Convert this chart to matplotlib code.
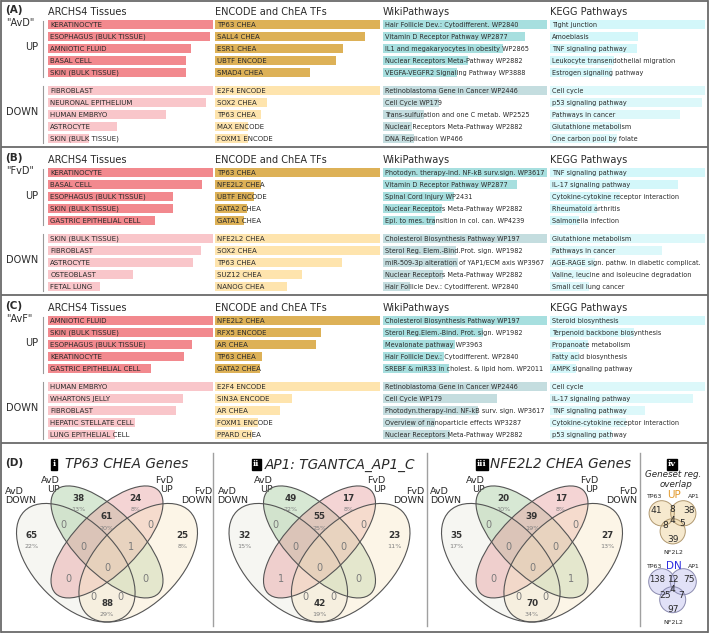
import matplotlib
matplotlib.use('Agg')
import matplotlib.pyplot as plt
from matplotlib.patches import Ellipse, Circle

# ---------------- DATA ----------------
PANEL_IDS = ["(A)", "(B)", "(C)"]
PANEL_NAMES = ['"AvD"', '"FvD"', '"AvF"']
COLUMN_TITLES = ["ARCHS4 Tissues", "ENCODE and ChEA TFs", "WikiPathways", "KEGG Pathways"]

# first five = UP, last five = DOWN; values = relative enrichment (bar length)
AVD_ARCHS4_LABELS = ["KERATINOCYTE", "ESOPHAGUS (BULK TISSUE)", "AMNIOTIC FLUID", "BASAL CELL", "SKIN (BULK TISSUE)",
                     "FIBROBLAST", "NEURONAL EPITHELIUM", "HUMAN EMBRYO", "ASTROCYTE", "SKIN (BULK TISSUE)"]
AVD_ARCHS4_VALUES = [1.0, 0.98, 0.866, 0.838, 0.838, 1.0, 0.96, 0.717, 0.42, 0.25]
AVD_TF_LABELS = ["TP63 CHEA", "SALL4 CHEA", "ESR1 CHEA", "UBTF ENCODE", "SMAD4 CHEA",
                 "E2F4 ENCODE", "SOX2 CHEA", "TP63 CHEA", "MAX ENCODE", "FOXM1 ENCODE"]
AVD_TF_VALUES = [1.0, 0.909, 0.774, 0.733, 0.576, 1.0, 0.313, 0.277, 0.2, 0.2]
AVD_WIKI_LABELS = ["Hair Follicle Dev.: Cytodifferent. WP2840", "Vitamin D Receptor Pathway WP2877",
                   "IL1 and megakaryocytes in obesity WP2865", "Nuclear Receptors Meta-Pathway WP2882",
                   "VEGFA-VEGFR2 Signaling Pathway WP3888", "Retinoblastoma Gene in Cancer WP2446",
                   "Cell Cycle WP179", "Trans-sulfuration and one C metab. WP2525",
                   "Nuclear Receptors Meta-Pathway WP2882", "DNA Replication WP466"]
AVD_WIKI_VALUES = [1.0, 0.868, 0.73, 0.52, 0.45, 1.0, 0.344, 0.247, 0.176, 0.19]
AVD_KEGG_LABELS = ["Tight junction", "Amoebiasis", "TNF signaling pathway", "Leukocyte transendothelial migration",
                   "Estrogen signaling pathway", "Cell cycle", "p53 signaling pathway", "Pathways in cancer",
                   "Glutathione metabolism", "One carbon pool by folate"]
AVD_KEGG_VALUES = [1.0, 0.57, 0.56, 0.41, 0.40, 1.0, 0.98, 0.84, 0.46, 0.43]

FVD_ARCHS4_LABELS = ["KERATINOCYTE", "BASAL CELL", "ESOPHAGUS (BULK TISSUE)", "SKIN (BULK TISSUE)",
                     "GASTRIC EPITHELIAL CELL", "SKIN (BULK TISSUE)", "FIBROBLAST", "ASTROCYTE", "OSTEOBLAST", "FETAL LUNG"]
FVD_ARCHS4_VALUES = [1.0, 0.933, 0.757, 0.757, 0.65, 1.0, 0.927, 0.879, 0.518, 0.316]
FVD_TF_LABELS = ["TP63 CHEA", "NFE2L2 CHEA", "UBTF ENCODE", "GATA2 CHEA", "GATA1 CHEA",
                 "NFE2L2 CHEA", "SOX2 CHEA", "TP63 CHEA", "SUZ12 CHEA", "NANOG CHEA"]
FVD_TF_VALUES = [1.0, 0.277, 0.236, 0.196, 0.176, 1.0, 1.0, 0.768, 0.525, 0.434]
FVD_WIKI_LABELS = ["Photodyn. therapy-ind. NF-kB surv.sign. WP3617", "Vitamin D Receptor Pathway WP2877",
                   "Spinal Cord Injury WP2431", "Nuclear Receptors Meta-Pathway WP2882",
                   "Epi. to mes. transition in col. can. WP4239", "Cholesterol Biosynthesis Pathway WP197",
                   "Sterol Reg. Elem.-Bind.Prot. sign. WP1982", "miR-509-3p alteration of YAP1/ECM axis WP3967",
                   "Nuclear Receptors Meta-Pathway WP2882", "Hair Follicle Dev.: Cytodifferent. WP2840"]
FVD_WIKI_VALUES = [1.0, 0.818, 0.435, 0.362, 0.318, 1.0, 0.443, 0.46, 0.368, 0.162]
FVD_KEGG_LABELS = ["TNF signaling pathway", "IL-17 signaling pathway", "Cytokine-cytokine receptor interaction",
                   "Rheumatoid arthritis", "Salmonella infection", "Glutathione metabolism", "Pathways in cancer",
                   "AGE-RAGE sign. pathw. in diabetic complicat.", "Valine, leucine and isoleucine degradation",
                   "Small cell lung cancer"]
FVD_KEGG_VALUES = [1.0, 0.824, 0.45, 0.30, 0.187, 1.0, 0.725, 0.29, 0.26, 0.25]

AVF_ARCHS4_LABELS = ["AMNIOTIC FLUID", "SKIN (BULK TISSUE)", "ESOPHAGUS (BULK TISSUE)", "KERATINOCYTE",
                     "GASTRIC EPITHELIAL CELL", "HUMAN EMBRYO", "WHARTONS JELLY", "FIBROBLAST",
                     "HEPATIC STELLATE CELL", "LUNG EPITHELIAL CELL"]
AVF_ARCHS4_VALUES = [1.0, 1.0, 0.872, 0.826, 0.623, 1.0, 0.818, 0.775, 0.528, 0.407]
AVF_TF_LABELS = ["NFE2L2 CHEA", "RFX5 ENCODE", "AR CHEA", "TP63 CHEA", "GATA2 CHEA",
                 "E2F4 ENCODE", "SIN3A ENCODE", "AR CHEA", "FOXM1 ENCODE", "PPARD CHEA"]
AVF_TF_VALUES = [1.0, 0.64, 0.61, 0.283, 0.273, 1.0, 0.465, 0.394, 0.263, 0.226]
AVF_WIKI_LABELS = ["Cholesterol Biosynthesis Pathway WP197", "Sterol Reg.Elem.-Bind. Prot. sign. WP1982",
                   "Mevalonate pathway WP3963", "Hair Follicle Dev.: Cytodifferent. WP2840",
                   "SREBF & miR33 in cholest. & lipid hom. WP2011", "Retinoblastoma Gene in Cancer WP2446",
                   "Cell Cycle WP179", "Photodyn.therapy-ind. NF-kB surv. sign. WP3617",
                   "Overview of nanoparticle effects WP3287", "Nuclear Receptors Meta-Pathway WP2882"]
AVF_WIKI_VALUES = [1.0, 0.61, 0.44, 0.374, 0.40, 1.0, 0.696, 0.577, 0.32, 0.41]
AVF_KEGG_LABELS = ["Steroid biosynthesis", "Terpenoid backbone biosynthesis", "Propanoate metabolism",
                   "Fatty acid biosynthesis", "AMPK signaling pathway", "Cell cycle", "IL-17 signaling pathway",
                   "TNF signaling pathway", "Cytokine-cytokine receptor interaction", "p53 signaling pathway"]
AVF_KEGG_VALUES = [1.0, 0.54, 0.247, 0.19, 0.17, 1.0, 0.925, 0.61, 0.49, 0.40]

# Venn diagrams: region order
VENN_REGIONS = ["A", "B", "C", "D", "BC", "AB", "CD", "ABC", "BCD", "ABCD", "AC", "BD", "ACD", "ABD", "AD"]
VENN_SET_NAMES = ["AvD\nDOWN", "AvD\nUP", "FvD\nUP", "FvD\nDOWN"]
VENN_NUMERALS = ["i", "ii", "iii"]
VENN_TITLES = ["TP63 CHEA Genes", "AP1: TGANTCA_AP1_C", "NFE2L2 CHEA Genes"]
TP63_COUNTS = [65, 38, 24, 25, 61, 0, 0, 0, 1, 0, 0, 0, 0, 0, 88]
TP63_PCT = [22, 13, 8, 8, 20, None, None, None, None, None, None, None, None, None, 29]
AP1_COUNTS = [32, 49, 17, 23, 55, 0, 0, 0, 0, 0, 1, 0, 0, 0, 42]
AP1_PCT = [15, 22, 8, 11, 25, None, None, None, None, None, None, None, None, None, 19]
NFE2L2_COUNTS = [35, 20, 17, 27, 39, 0, 0, 0, 0, 0, 0, 1, 0, 0, 70]
NFE2L2_PCT = [17, 10, 8, 13, 19, None, None, None, None, None, None, None, None, None, 34]

# Geneset regulation overlap (TP63, TP63&AP1, AP1, TP63&NF2L2, all, AP1&NF2L2, NF2L2)
OVERLAP_REGIONS = ["T", "TA", "A", "TN", "TAN", "AN", "N"]
OVERLAP_UP = [41, 8, 38, 8, 4, 5, 39]
OVERLAP_DN = [138, 12, 75, 25, 4, 7, 97]

# ---------------- FIGURE ----------------
W, H = 709, 633
fig = plt.figure(figsize=(W / 100, H / 100), dpi=100)
base = fig.add_axes([0, 0, 1, 1])
base.set_xlim(0, W)
base.set_ylim(H, 0)
base.axis('off')

TXT = '#2a2a2a'
COL_X = [(48, 213), (215, 380), (383, 547), (550, 705)]
UP_COLORS = ['#F2898E', '#DDB157', '#A7DFDF', '#D3F7FA']
DN_COLORS = ['#F9C6CA', '#FEE4AD', '#C4DDDF', '#DCF8FA']
LABEL_SIZES = [5.0, 5.0, 4.7, 4.7]
PANEL_OFFSETS = [0, 148.3, 296]

panel_data = [
    [(AVD_ARCHS4_LABELS, AVD_ARCHS4_VALUES), (AVD_TF_LABELS, AVD_TF_VALUES),
     (AVD_WIKI_LABELS, AVD_WIKI_VALUES), (AVD_KEGG_LABELS, AVD_KEGG_VALUES)],
    [(FVD_ARCHS4_LABELS, FVD_ARCHS4_VALUES), (FVD_TF_LABELS, FVD_TF_VALUES),
     (FVD_WIKI_LABELS, FVD_WIKI_VALUES), (FVD_KEGG_LABELS, FVD_KEGG_VALUES)],
    [(AVF_ARCHS4_LABELS, AVF_ARCHS4_VALUES), (AVF_TF_LABELS, AVF_TF_VALUES),
     (AVF_WIKI_LABELS, AVF_WIKI_VALUES), (AVF_KEGG_LABELS, AVF_KEGG_VALUES)],
]
row_pos = [0, 1, 2, 3, 4, 5.5, 6.5, 7.5, 8.5, 9.5]


def px_axes(x0, y0, x1, y1):
    return fig.add_axes([x0 / W, 1 - y1 / H, (x1 - x0) / W, (y1 - y0) / H])


for p, off in enumerate(PANEL_OFFSETS):
    base.text(5, off + 10, PANEL_IDS[p], fontsize=7.5, fontweight='bold', color=TXT, va='center', ha='left')
    base.text(6, off + 22.5, PANEL_NAMES[p], fontsize=7, color=TXT, va='center', ha='left')
    base.text(38.5, off + 47.5, "UP", fontsize=7, color=TXT, va='center', ha='right')
    base.text(38.5, off + 112, "DOWN", fontsize=7, color=TXT, va='center', ha='right')
    base.plot([43.3, 43.3], [off + 20.5, off + 77], color='#9a9a9a', lw=0.8)
    base.plot([43.3, 43.3], [off + 86, off + 143], color='#9a9a9a', lw=0.8)
    for c, (x0, x1) in enumerate(COL_X):
        base.text(x0, off + 12, COLUMN_TITLES[c], fontsize=7, color=TXT, va='center', ha='left')
        labels, values = panel_data[p][c]
        ax = px_axes(x0, off + 18.6, x1, off + 144.6)
        ax.set_xlim(0, 1)
        ax.set_ylim(10.0, -0.5)
        ax.axis('off')
        colors = [UP_COLORS[c]] * 5 + [DN_COLORS[c]] * 5
        ax.barh(row_pos, values, height=0.76, left=0, color=colors, edgecolor='none')
        for y, lab in zip(row_pos, labels):
            ax.text(0.013, y, lab, fontsize=LABEL_SIZES[c], color=TXT, va='center', ha='left', clip_on=False)

# panel frames
frame_c = '#6a6a6a'
for y in [1.2, 147, 295, 442.7, 631.8]:
    base.plot([1.2, 707.5], [y, y], color=frame_c, lw=1.3, solid_capstyle='butt')
for x in [1.2, 707.5]:
    base.plot([x, x], [1.2, 631.8], color=frame_c, lw=1.3)

# ---------------- PANEL D ----------------
base.text(5, 463, "(D)", fontsize=7.5, fontweight='bold', color=TXT, va='center', ha='left')
for x in [213, 427, 639.5]:
    base.plot([x, x], [453, 626], color='#a0a0a0', lw=1)

ELLIPSES = [  # (x, y, a, b, angle, face, alpha)
    (0.35, 0.47, 0.35, 0.20, 135, '#E6E6DC', 0.35),
    (0.50, 0.57, 0.35, 0.15, 135, '#A8CCA0', 0.45),
    (0.50, 0.57, 0.35, 0.15, 45, '#E8A0A0', 0.45),
    (0.65, 0.47, 0.35, 0.20, 45, '#F8E6C4', 0.40),
]
REGION_POS = {"A": (0.138, 0.603), "B": (0.362, 0.78), "C": (0.638, 0.78), "D": (0.862, 0.603),
              "BC": (0.5, 0.69), "AB": (0.29, 0.65), "CD": (0.71, 0.65), "ABC": (0.386, 0.544),
              "BCD": (0.614, 0.544), "ABCD": (0.5, 0.446), "AC": (0.314, 0.39), "BD": (0.686, 0.39),
              "ACD": (0.434, 0.307), "ABD": (0.566, 0.307), "AD": (0.5, 0.275)}

venn_counts = [TP63_COUNTS, AP1_COUNTS, NFE2L2_COUNTS]
venn_pcts = [TP63_PCT, AP1_PCT, NFE2L2_PCT]
S = 208.0
title_x = [(54, 65), (256, 265), (482, 490)]
for k in range(3):
    cx = 107 + 212.5 * k
    ax = px_axes(cx - S / 2, 660.5 - 0.95 * S, cx + S / 2, 660.5 - 0.15 * S)
    ax.set_xlim(0, 1)
    ax.set_ylim(0.15, 0.95)
    ax.axis('off')
    for (x, y, a, b, ang, fc, al) in ELLIPSES:
        ax.add_patch(Ellipse((x, y), 2 * a, 2 * b, angle=ang, facecolor=fc, alpha=al, edgecolor='none', clip_on=False))
    for (x, y, a, b, ang, fc, al) in ELLIPSES:
        ax.add_patch(Ellipse((x, y), 2 * a, 2 * b, angle=ang, facecolor='none', edgecolor='#555555', lw=0.8, clip_on=False))
    for reg, cnt, pct in zip(VENN_REGIONS, venn_counts[k], venn_pcts[k]):
        u, v = REGION_POS[reg]
        if pct is not None:
            ax.text(u, v, str(cnt), fontsize=6.3, fontweight='bold', color='#333333', ha='center', va='center', clip_on=False)
            ax.text(u, v - 0.055, f"{pct}%", fontsize=4.6, color='#808080', ha='center', va='center', clip_on=False)
        else:
            ax.text(u, v, str(cnt), fontsize=7, color='#7a7a7a', ha='center', va='center', clip_on=False)
    # titles
    bx, tx = title_x[k]
    base.text(bx, 464.5, VENN_NUMERALS[k], fontsize=6, fontweight='bold', color='white', family='DejaVu Serif',
              ha='center', va='center', bbox=dict(boxstyle='square,pad=0.15', fc='black', ec='black'))
    base.text(tx, 464.5, VENN_TITLES[k], fontsize=9.8, style='italic', color=TXT, ha='left', va='center')
    dx = 212.5 * k
    base.text(5 + dx, 496, VENN_SET_NAMES[0], fontsize=6.8, color=TXT, ha='left', va='center', linespacing=0.95)
    base.text(60 + dx, 485, VENN_SET_NAMES[1], fontsize=6.8, color=TXT, ha='right', va='center', linespacing=0.95)
    base.text(173 + dx, 485, VENN_SET_NAMES[2], fontsize=6.8, color=TXT, ha='right', va='center', linespacing=0.95)
    base.text(212 + dx, 496, VENN_SET_NAMES[3], fontsize=6.8, color=TXT, ha='right', va='center', linespacing=0.95)

# geneset overlap mini venns
base.text(672, 464.5, "iv", fontsize=6, fontweight='bold', color='white', family='DejaVu Serif',
          ha='center', va='center', bbox=dict(boxstyle='square,pad=0.15', fc='black', ec='black'))
base.text(673, 474.5, "Geneset reg.", fontsize=6.3, style='italic', color=TXT, ha='center', va='center')
base.text(676, 484.5, "overlap", fontsize=6.3, style='italic', color=TXT, ha='center', va='center')

mini_specs = [
    (OVERLAP_UP, "UP", '#E39A2C', 513.3, 495.5, 553, '#F0D7A6', '#B09870',
     [(656.7, 510.7), (672.7, 510), (689.3, 510.7), (665, 525), (672.7, 520.7), (681.7, 524), (672.7, 539.3)], 12.6),
    (OVERLAP_DN, "DN", '#2E2EE0', 581.7, 566.5, 623, '#C9C9F2', '#8A8AAE',
     [(657.3, 580), (674, 579.3), (689.3, 580), (665, 595), (672.7, 589), (680.7, 595), (673.3, 609.3)], 13.0),
]
for vals, lab, lcol, cy, ty, ny, fc, ec, pos, r in mini_specs:
    cents = [(661.7, cy), (683.3, cy), (672.7, cy + 18)]
    for (x, y) in cents:
        base.add_patch(Circle((x, y), r, facecolor=fc, alpha=0.55, edgecolor='none'))
    for (x, y) in cents:
        base.add_patch(Circle((x, y), r, facecolor='none', edgecolor=ec, lw=0.7))
    base.text(655, ty + 0.5, "TP63", fontsize=4.5, color=TXT, ha='center', va='center')
    base.text(674, ty - 0.5, lab, fontsize=7.5, color=lcol, ha='center', va='center')
    base.text(694, ty + 0.5, "AP1", fontsize=4.5, color=TXT, ha='center', va='center')
    base.text(673, ny, "NF2L2", fontsize=4.5, color=TXT, ha='center', va='center')
    for v, (x, y) in zip(vals, pos):
        fs = 6.0 if v >= 100 else 6.6
        base.text(x, y, str(v), fontsize=fs, color=TXT, ha='center', va='center')

fig.savefig('out.png', dpi=100)
